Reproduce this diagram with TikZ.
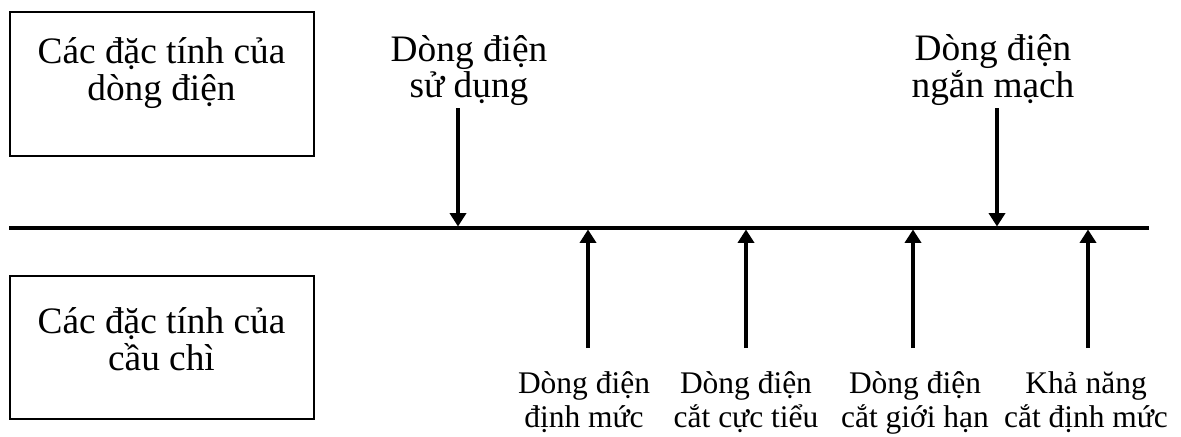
\documentclass[tikz,border=0pt]{standalone}
\usepackage{fontspec}
\setmainfont{Liberation Serif}
\usetikzlibrary{arrows.meta}
\begin{document}
\begin{tikzpicture}[x=0.75pt,y=-0.75pt,
  box/.style={draw,line width=1.5pt,minimum width=228pt,minimum height=107.5pt,inner sep=0pt},
  boxtext/.style={align=center,anchor=base,inner sep=0pt,font=\fontsize{28}{27.5}\selectfont},
  toplabel/.style={align=center,anchor=base,inner sep=0pt,font=\fontsize{28}{26.3}\selectfont},
  botlabel/.style={align=center,anchor=base,inner sep=0pt,font=\fontsize{23.6}{25.5}\selectfont},
  axis/.style={line width=3pt},
  pointer/.style={line width=2.6pt,-{Triangle[length=10pt,width=12pt]}}]
\useasboundingbox (0,0) rectangle (1181,436);

% the two category boxes (text placed by the baseline of its last line)
\node[box] (cur) at (161.5,84) {};
\node[box] (fuse) at (161.5,347.5) {};
\node[boxtext] (curtxt) at (161.5,100) {Các đặc tính của\\dòng điện};
\node[boxtext] (fusetxt) at (161.5,370) {Các đặc tính của\\cầu chì};

% current axis
\coordinate (axL) at (9,228);
\coordinate (axR) at (1149,228);
\draw[axis] (axL) -- (axR);

% current characteristics (above the axis)
\node[toplabel] (use) at (469,97) {Dòng điện\\sử dụng};
\node[toplabel] (short) at (993,97) {Dòng điện\\ngắn mạch};
\coordinate (useS) at (458,108);
\coordinate (useE) at (458,226.5);
\coordinate (shortS) at (997,108);
\coordinate (shortE) at (997,226.5);
\draw[pointer] (useS) -- (useE);
\draw[pointer] (shortS) -- (shortE);

% fuse characteristics (below the axis)
\node[botlabel] (rated) at (584,427) {Dòng điện\\định mức};
\node[botlabel] (minbreak) at (746,427) {Dòng điện\\cắt cực tiểu};
\node[botlabel] (limbreak) at (915,427) {Dòng điện\\cắt giới hạn};
\node[botlabel] (capacity) at (1086,427) {Khả năng\\cắt định mức};
\foreach \n/\x in {ratedA/588,minA/746,limA/913,capA/1088}{
  \coordinate (\n S) at (\x,348);
  \coordinate (\n E) at (\x,229.5);
  \draw[pointer] (\n S) -- (\n E);
}
\end{tikzpicture}
\end{document}
